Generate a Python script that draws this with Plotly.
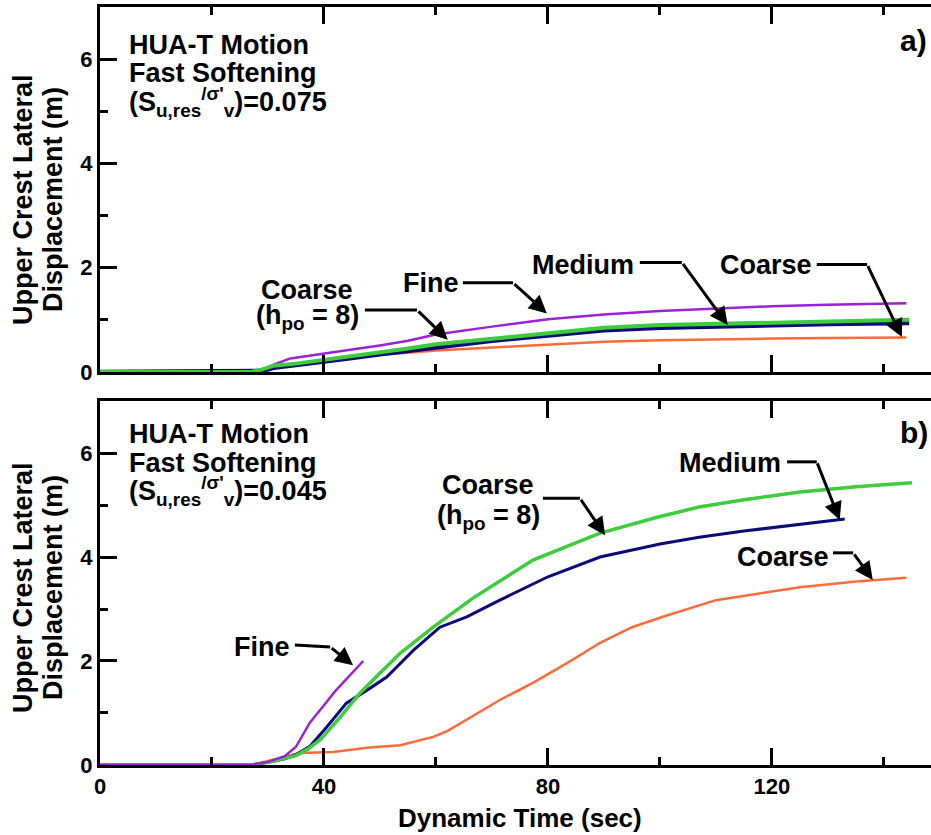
import plotly.graph_objects as go

# ---------------- data ----------------
# Panel a) (S_u,res/sigma'_v = 0.075)
a_fine_x = [0, 27, 29, 31, 34, 40, 45, 50, 55, 60, 65, 70, 80, 90, 100, 110, 120, 130, 144]
a_fine_y = [0, 0, 0.04, 0.14, 0.26, 0.36, 0.43, 0.51, 0.60, 0.72, 0.80, 0.87, 1.01, 1.10, 1.17, 1.22, 1.26, 1.29, 1.32]

a_med_x = [0, 27, 29, 31, 35, 40, 45, 50, 55, 60, 70, 80, 90, 100, 110, 120, 130, 144.5]
a_med_y = [0, 0, 0.02, 0.08, 0.13, 0.20, 0.27, 0.34, 0.41, 0.48, 0.60, 0.70, 0.80, 0.85, 0.88, 0.90, 0.92, 0.94]

a_chpo_x = [0, 27, 29, 31, 35, 40, 45, 50, 55, 60, 70, 80, 90, 100, 110, 120, 130, 144.5]
a_chpo_y = [0, 0, 0.05, 0.12, 0.16, 0.23, 0.31, 0.38, 0.45, 0.53, 0.64, 0.74, 0.85, 0.90, 0.92, 0.95, 0.97, 1.00]

a_coarse_x = [0, 27, 29, 31, 35, 40, 45, 50, 55, 60, 70, 80, 90, 100, 110, 120, 130, 144]
a_coarse_y = [0, 0, 0.04, 0.10, 0.14, 0.20, 0.27, 0.33, 0.37, 0.41, 0.47, 0.53, 0.58, 0.61, 0.63, 0.64, 0.65, 0.66]

# Panel b) (S_u,res/sigma'_v = 0.045)
b_fine_x = [0, 27, 30, 33, 35, 36, 37.5, 40, 42, 44, 47]
b_fine_y = [0, 0, 0.06, 0.17, 0.35, 0.55, 0.82, 1.15, 1.42, 1.65, 2.0]

b_med_x = [0, 27, 30, 33, 35, 37.5, 40.5, 44, 47.7, 51.2, 56, 60.7, 65.5, 71.4, 80, 89.3, 100, 107, 115, 125, 133]
b_med_y = [0, 0, 0.05, 0.12, 0.20, 0.36, 0.73, 1.19, 1.44, 1.69, 2.21, 2.65, 2.85, 3.17, 3.62, 4.00, 4.25, 4.38, 4.50, 4.62, 4.73]

b_chpo_x = [0, 27, 30, 33, 35, 37, 39.3, 42.9, 46.4, 50, 53.6, 59.5, 66.6, 77.3, 89.3, 100, 107, 115, 125, 135, 145]
b_chpo_y = [0, 0, 0.05, 0.12, 0.18, 0.30, 0.48, 0.92, 1.38, 1.77, 2.15, 2.65, 3.21, 3.94, 4.46, 4.78, 4.96, 5.10, 5.25, 5.35, 5.43]

b_coarse_x = [0, 27, 30, 33, 35.7, 41.6, 47.7, 53.6, 59.5, 62, 65.5, 71.4, 77.3, 83.4, 89.3, 95, 100.5, 110, 125, 135, 144]
b_coarse_y = [0, 0, 0.08, 0.16, 0.23, 0.25, 0.33, 0.38, 0.54, 0.65, 0.87, 1.25, 1.58, 1.96, 2.35, 2.65, 2.85, 3.17, 3.42, 3.53, 3.60]

x_tickvals = [0, 40, 80, 120]
y_tickvals = [0, 2, 4, 6]

# ---------------- style ----------------
PURPLE = "#9a22d6"
NAVY = "#0a0a78"
GREEN = "#3ccc3c"
ORANGE = "#ff6a3a"
FONT = "Liberation Sans, Arial, sans-serif"

fig = go.Figure()

def add(x, y, color, width, xa, ya):
    fig.add_trace(go.Scatter(x=x, y=y, mode="lines", xaxis=xa, yaxis=ya,
                             line=dict(color=color, width=width), showlegend=False,
                             hoverinfo="skip"))

add(a_coarse_x, a_coarse_y, ORANGE, 2.5, "x", "y")
add(a_fine_x, a_fine_y, PURPLE, 2.5, "x", "y")
add(a_med_x, a_med_y, NAVY, 4.5, "x", "y")
add(a_chpo_x, a_chpo_y, GREEN, 4, "x", "y")

add(b_coarse_x, b_coarse_y, ORANGE, 2.5, "x2", "y2")
add(b_med_x, b_med_y, NAVY, 3, "x2", "y2")
add(b_chpo_x, b_chpo_y, GREEN, 3.5, "x2", "y2")
add(b_fine_x, b_fine_y, PURPLE, 2.5, "x2", "y2")

def xaxis(show_labels, anchor):
    return dict(range=[0, 148.4], anchor=anchor, showline=True, linecolor="black", linewidth=3,
                mirror="allticks", ticks="inside", ticklen=17, tickwidth=3, tickcolor="black",
                tickvals=x_tickvals, showticklabels=show_labels, showgrid=False, zeroline=False,
                tickfont=dict(family=FONT, size=22, color="black", weight="bold"),
                minor=dict(tickvals=[20, 60, 100, 140], ticks="inside", ticklen=8, tickwidth=3,
                           tickcolor="black", showgrid=False))

def yaxis(domain, anchor):
    return dict(range=[0, 7], domain=domain, anchor=anchor, showline=True, linecolor="black",
                linewidth=3, mirror=False, ticks="inside", ticklen=17, tickwidth=3,
                tickcolor="black", tickvals=y_tickvals, showgrid=False, zeroline=False,
                tickfont=dict(family=FONT, size=22, color="black", weight="bold"),
                minor=dict(tickvals=[1, 3, 5], ticks="inside", ticklen=8, tickwidth=3,
                           tickcolor="black", showgrid=False))

fig.update_layout(
    width=931, height=835,
    margin=dict(l=100, r=0, t=7, b=70),
    paper_bgcolor="white", plot_bgcolor="white",
    xaxis=xaxis(False, "y"),
    xaxis2=xaxis(True, "y2"),
    yaxis=yaxis([0.5185, 1.0], "x"),
    yaxis2=yaxis([0.0, 0.4802], "x2"),
    font=dict(family=FONT, color="black"),
)
fig.layout.xaxis2.matches = "x"

ann = []
def text(t, x, y, xr, yr, size=27, xanchor="center", angle=0):
    ann.append(dict(text=t, x=x, y=y, xref=xr, yref=yr, showarrow=False, xanchor=xanchor,
                    yanchor="middle", textangle=angle,
                    font=dict(family=FONT, size=size, color="black", weight="bold")))

def arrow(p0, p1, tip, xr, yr):
    fig.add_shape(type="line", x0=p0[0], y0=p0[1], x1=p1[0], y1=p1[1], xref=xr, yref=yr,
                  line=dict(color="black", width=3))
    ann.append(dict(text="", x=tip[0], y=tip[1], ax=p1[0], ay=p1[1], xref=xr, yref=yr,
                    axref=xr, ayref=yr, showarrow=True, arrowhead=2, arrowsize=1.2,
                    arrowwidth=3, arrowcolor="black", standoff=0))

# info boxes
for (lines, xr, yr, ys) in [
    (["HUA-T Motion", "Fast Softening", "(S<sub>u,res</sub><sup>/σ'</sup><sub>v</sub>)=0.075"], "x", "y", [6.27, 5.73, 5.17]),
    (["HUA-T Motion", "Fast Softening", "(S<sub>u,res</sub><sup>/σ'</sup><sub>v</sub>)=0.045"], "x2", "y2", [6.37, 5.81, 5.27]),
]:
    for t, yy in zip(lines, ys):
        text(t, 4.8, yy, xr, yr, size=27, xanchor="left")

text("a)", 142.5, 6.35, "x", "y", size=30, xanchor="left")
text("b)", 142.5, 6.40, "x2", "y2", size=30, xanchor="left")

# panel a labels + arrows
text("Coarse", 37.0, 1.58, "x", "y", size=27)
text("(h<sub>po</sub> = 8)", 37.0, 1.06, "x", "y", size=27)
text("Fine", 59.1, 1.71, "x", "y", size=27)
text("Medium", 86.25, 2.06, "x", "y", size=27)
text("Coarse", 118.9, 2.06, "x", "y", size=27)
arrow((47.3, 1.19), (56.6, 1.19), (62.1, 0.62), "x", "y")
arrow((64.8, 1.71), (73.75, 1.71), (79.8, 1.12), "x", "y")
arrow((96.4, 2.10), (103.9, 2.10), (112.1, 0.90), "x", "y")
arrow((128.0, 2.06), (137.0, 2.06), (143.2, 0.67), "x", "y")

# panel b labels + arrows
text("Fine", 28.9, 2.27, "x2", "y2", size=27)
text("Coarse", 69.3, 5.38, "x2", "y2", size=27)
text("(h<sub>po</sub> = 8)", 69.3, 4.77, "x2", "y2", size=27)
text("Medium", 112.5, 5.81, "x2", "y2", size=27)
text("Coarse", 122.0, 4.0, "x2", "y2", size=27)
arrow((34.8, 2.31), (41.1, 2.27), (45.2, 1.92), "x2", "y2")
arrow((79.1, 5.13), (85.7, 5.13), (90.2, 4.42), "x2", "y2")
arrow((122.7, 5.83), (128.0, 5.83), (132.1, 4.71), "x2", "y2")
arrow((130.9, 4.08), (134.5, 4.08), (138.0, 3.56), "x2", "y2")

# axis titles
for yc in [0.7467, 0.2348]:
    text("Upper Crest Lateral", -0.0927, yc, "paper", "paper", size=27, angle=-90)
    text("Displacement (m)", -0.0566, yc, "paper", "paper", size=27, angle=-90)
text("Dynamic Time (sec)", 0.505, -0.07, "paper", "paper", size=26)

fig.update_layout(annotations=ann)
fig.write_html("out.html")
